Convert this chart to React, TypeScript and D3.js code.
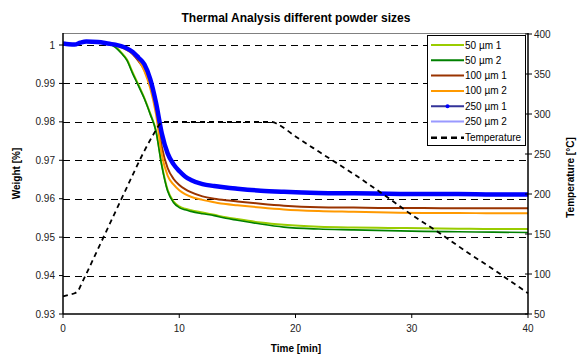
import React from "react";
import * as d3 from "d3";

const times = [0, 0.5, 1, 1.5, 2, 3, 4, 4.5, 5, 5.5, 6, 6.5, 7, 7.5, 8, 8.5, 9, 9.5, 10, 10.5, 11, 12, 13, 14, 15, 17, 19, 22, 25, 28, 31, 34, 37, 40];

const w50_1 = [1.0004, 1.0002, 1.0001, 1.0006, 1.0008, 1.0007, 1.0003, 0.9996, 0.9981, 0.9962, 0.9928, 0.9896, 0.9862, 0.9822, 0.9777, 0.9688, 0.9623, 0.9593, 0.958, 0.9574, 0.957, 0.9564, 0.9558, 0.9552, 0.9547, 0.9538, 0.9532, 0.9527, 0.9525, 0.9524, 0.9523, 0.9522, 0.9521, 0.9521];
const w50_2 = [1.0004, 1.0002, 1.0001, 1.0006, 1.0008, 1.0007, 1.0002, 0.9994, 0.9979, 0.996, 0.9925, 0.9893, 0.986, 0.982, 0.9775, 0.9685, 0.962, 0.959, 0.9577, 0.9571, 0.9567, 0.9561, 0.9556, 0.9549, 0.9544, 0.9534, 0.9526, 0.9521, 0.9519, 0.9517, 0.9515, 0.9514, 0.9513, 0.9512];
const w100_1 = [1.0004, 1.0002, 1.0001, 1.0006, 1.0008, 1.0007, 1.0003, 1.0, 0.9995, 0.9988, 0.9976, 0.9958, 0.9935, 0.9895, 0.9835, 0.9735, 0.968, 0.9652, 0.9636, 0.9625, 0.9617, 0.9606, 0.96, 0.9596, 0.9593, 0.9587, 0.9582, 0.9578, 0.9577, 0.9576, 0.9576, 0.9575, 0.9575, 0.9575];
const w100_2 = [1.0004, 1.0002, 1.0001, 1.0006, 1.0008, 1.0007, 1.0003, 0.9999, 0.9994, 0.9987, 0.9978, 0.9962, 0.9932, 0.9888, 0.982, 0.9715, 0.966, 0.9637, 0.9622, 0.9612, 0.9605, 0.9597, 0.9591, 0.9586, 0.9583, 0.9577, 0.9572, 0.9568, 0.9566, 0.9564, 0.9563, 0.9563, 0.9562, 0.9562];
const w250_1 = [1.0004, 1.0002, 1.0001, 1.0006, 1.0009, 1.0008, 1.0003, 1.0001, 0.9997, 0.9991, 0.9982, 0.9967, 0.995, 0.9912, 0.985, 0.977, 0.9718, 0.969, 0.9672, 0.9658, 0.9649, 0.9638, 0.9633, 0.9629, 0.9626, 0.9621, 0.9618, 0.9615, 0.9614, 0.9613, 0.9612, 0.9612, 0.9611, 0.9611];
const w250_2 = [1.0005, 1.0003, 1.0002, 1.0007, 1.001, 1.0009, 1.0004, 1.0002, 0.9998, 0.9992, 0.9983, 0.9968, 0.9951, 0.9913, 0.9851, 0.9772, 0.972, 0.9692, 0.9674, 0.966, 0.9651, 0.964, 0.9635, 0.9631, 0.9628, 0.9623, 0.962, 0.9617, 0.9616, 0.9615, 0.9614, 0.9614, 0.9613, 0.9613];

const tempTimes = [0, 0.5, 1, 1.3, 1.6, 2, 3, 4, 5, 6, 7, 7.6, 8, 8.3, 8.6, 10, 12, 14, 16, 18, 18.5, 20, 22, 25, 28, 30, 32, 35, 37, 38, 39, 40];
const tempValues = [72, 74, 76, 79, 88, 100, 131, 162, 193, 224, 254, 270, 280, 287, 290, 290, 290, 290, 290, 290, 287, 272, 253, 225, 195, 174, 155, 125, 106, 96, 86, 76];

const weightTicks = [0.93, 0.94, 0.95, 0.96, 0.97, 0.98, 0.99, 1];
const weightTickLabels = ["0.93", "0.94", "0.95", "0.96", "0.97", "0.98", "0.99", "1"];
const gridTicks = [0.94, 0.95, 0.96, 0.97, 0.98, 0.99, 1];
const tempTicks = [50, 100, 150, 200, 250, 300, 350, 400];
const timeTicks = [0, 10, 20, 30, 40];

const seriesNames = ["50 µm 1", "50 µm 2", "100 µm 1", "100 µm 2", "250 µm 1", "250 µm 2"];
const seriesData = [w50_1, w50_2, w100_1, w100_2, w250_1, w250_2];
const seriesColors = ["#99CC00", "#008000", "#993300", "#FF9900", "#0000FF", "#9999FF"];
const legendColors = ["#99CC00", "#008000", "#993300", "#FF9900", "#333399", "#9999FF"];
const seriesWidths = [2, 1.6, 2, 2, 4.5, 2];
const drawOrder = [0, 1, 2, 3, 5, 4];

const FONT = "Arial, 'Liberation Sans', Helvetica, sans-serif";

export default function App() {
  const left = 63, right = 528, top = 33, bottom = 314;
  const x = d3.scaleLinear().domain([0, 40]).range([left, right]);
  const yW = d3.scaleLinear().domain([0.93, 1.0]).range([bottom, 45]);
  const yT = d3.scaleLinear().domain([50, 400]).range([bottom, 34]);

  const wLine = (vals: number[]) =>
    d3.line<number>().x((_, i) => x(times[i])).y((v) => yW(v)).curve(d3.curveMonotoneX)(vals) || "";
  const tLine =
    d3.line<number>().x((_, i) => x(tempTimes[i])).y((v) => yT(v)).curve(d3.curveMonotoneX)(tempValues) || "";

  const legX = 427, legY = 35, legW = 98, legH = 110;
  const legRow = (i: number) => legY + 10 + i * 15.3;

  return (
    <svg width={580} height={356} style={{ position: "absolute", left: 0, top: 0, background: "#fff" }} fontFamily={FONT}>
      <rect x={0} y={0} width={580} height={356} fill="#fff" />
      <text x={296} y={22} textAnchor="middle" fontSize={12} fontWeight="bold" fill="#000">
        Thermal Analysis different powder sizes
      </text>
      {gridTicks.map((t) => (
        <line key={"g" + t} x1={left} x2={right} y1={Math.round(yW(t)) + 0.5} y2={Math.round(yW(t)) + 0.5}
          stroke="#000" strokeWidth={1} strokeDasharray="7,5" />
      ))}
      <line x1={left} x2={right} y1={top + 0.5} y2={top + 0.5} stroke="#808080" strokeWidth={1} />
      {drawOrder.map((i) => (
        <path key={"s" + i} d={wLine(seriesData[i])} fill="none" stroke={seriesColors[i]}
          strokeWidth={seriesWidths[i]} strokeLinejoin="round" />
      ))}
      <path d={tLine} fill="none" stroke="#000" strokeWidth={1.8} strokeDasharray="5,4" />
      <line x1={left} x2={left} y1={top} y2={bottom} stroke="#000" strokeWidth={1.5} />
      <line x1={left} x2={right} y1={bottom} y2={bottom} stroke="#000" strokeWidth={1.5} />
      <line x1={right} x2={right} y1={top} y2={bottom} stroke="#000" strokeWidth={1.5} />
      {weightTicks.map((t, i) => (
        <g key={"wt" + t}>
          <line x1={left - 4} x2={left} y1={yW(t)} y2={yW(t)} stroke="#000" strokeWidth={1} />
          <text x={left - 8} y={yW(t) + 3.5} textAnchor="end" fontSize={10} fill="#222">{weightTickLabels[i]}</text>
        </g>
      ))}
      {tempTicks.map((t) => (
        <g key={"tt" + t}>
          <line x1={right - 3} x2={right + 4} y1={yT(t)} y2={yT(t)} stroke="#000" strokeWidth={1} />
          <text x={right + 6} y={yT(t) + 3.5} textAnchor="start" fontSize={10} fill="#222">{t}</text>
        </g>
      ))}
      {timeTicks.map((t) => (
        <g key={"xt" + t}>
          <line x1={x(t)} x2={x(t)} y1={bottom} y2={bottom + 4} stroke="#000" strokeWidth={1} />
          <text x={x(t)} y={bottom + 18} textAnchor="middle" fontSize={10} fill="#222">{t}</text>
        </g>
      ))}
      <text x={296} y={352} textAnchor="middle" fontSize={10} fontWeight="bold" fill="#000">Time [min]</text>
      <text transform={`translate(20,${(top + bottom) / 2}) rotate(-90)`} textAnchor="middle" fontSize={10} fontWeight="bold" fill="#000">Weight [%]</text>
      <text transform={`translate(574,${(top + bottom) / 2 + 4}) rotate(-90)`} textAnchor="middle" fontSize={10} fontWeight="bold" fill="#000">Temperature [°C]</text>
      <rect x={legX + 0.5} y={legY + 0.5} width={legW} height={legH} fill="#fff" stroke="#000" strokeWidth={1} />
      {seriesNames.map((n, i) => (
        <g key={"l" + i}>
          <line x1={legX + 4} x2={legX + 37} y1={legRow(i)} y2={legRow(i)} stroke={legendColors[i]} strokeWidth={2} />
          {i === 4 && <circle cx={legX + 20.5} cy={legRow(i)} r={2} fill="#0000FF" />}
          <text x={legX + 38} y={legRow(i) + 3.5} fontSize={10} fill="#000">{n}</text>
        </g>
      ))}
      <line x1={legX + 4} x2={legX + 37} y1={legRow(6) + 1} y2={legRow(6) + 1} stroke="#000" strokeWidth={2.5} strokeDasharray="6,4" />
      <text x={legX + 38} y={legRow(6) + 4.5} fontSize={10} fill="#000">Temperature</text>
    </svg>
  );
}
